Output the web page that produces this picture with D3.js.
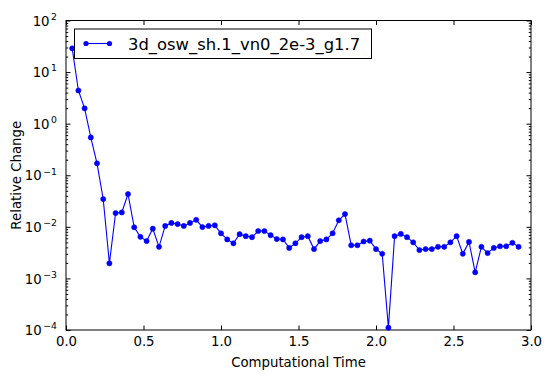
<!DOCTYPE html>
<html>
<head>
<meta charset="utf-8">
<script src="https://cdn.jsdelivr.net/npm/d3@7"></script>
<style>
  html, body { margin: 0; padding: 0; background: #fff; }
  svg { display: block; font-family: "DejaVu Sans", sans-serif; }
</style>
</head>
<body>
<svg id="chart" width="552" height="380"></svg>
<script>
// ---- data ----
const seriesName = "3d_osw_sh.1_vn0_2e-3_g1.7";
const times = [
  0.04,0.08,0.12,0.16,0.20,0.24,0.28,0.32,0.36,0.40,0.44,0.48,0.52,0.56,0.60,0.64,0.68,0.72,0.76,0.80,0.84,0.88,0.92,0.96,
  1.00,1.04,1.08,1.12,1.16,1.20,1.24,1.28,1.32,1.36,1.40,1.44,1.48,1.52,1.56,1.60,1.64,1.68,1.72,1.76,1.80,1.84,1.88,1.92,1.96,
  2.00,2.04,2.08,2.12,2.16,2.20,2.24,2.28,2.32,2.36,2.40,2.44,2.48,2.52,2.56,2.60,2.64,2.68,2.72,2.76,2.80,2.84,2.88,2.92
];
const relChange = [
  28.9,4.4,1.98,0.54,0.17,0.0346,0.00196,0.0185,0.019,0.0433,0.0098,0.0064,0.0053,0.0092,0.0041,0.0104,0.0119,0.0113,0.0104,0.0119,0.0137,0.0099,0.0104,0.0107,
  0.0075,0.0057,0.0048,0.0072,0.0066,0.0063,0.0083,0.0083,0.0069,0.0058,0.0057,0.0039,0.0048,0.0063,0.0066,0.0037,0.0053,0.0057,0.0075,0.0134,0.0177,0.0044,0.0044,0.0052,0.0054,
  0.0037,0.0030,0.000111,0.0066,0.0073,0.0063,0.0050,0.00355,0.0037,0.0037,0.0041,0.0041,0.0050,0.0066,0.0030,0.0051,0.00131,0.0041,0.0031,0.0039,0.0042,0.0042,0.0049,0.0041
];
const xTicks = [0.0, 0.5, 1.0, 1.5, 2.0, 2.5, 3.0];
const xTickLabels = ["0.0","0.5","1.0","1.5","2.0","2.5","3.0"];
const yExponents = [-4, -3, -2, -1, 0, 1, 2];
const xLabel = "Computational Time";
const yLabel = "Relative Change";

// ---- layout ----
const L = 66, R = 531, T = 20.5, B = 330;
const svg = d3.select("#chart");
const x = d3.scaleLinear().domain([0, 3]).range([L, R]);
const y = d3.scaleLog().domain([1e-4, 1e2]).range([B, T]);

const yMajor = yExponents.map(e => Math.pow(10, e));
const yMinor = [];
for (let e = -4; e < 2; e++) for (let k = 2; k <= 9; k++) yMinor.push(k * Math.pow(10, e));

const tickFont = 13.3;

// bottom axis
const gB = svg.append("g").attr("transform", `translate(0,${B})`)
  .call(d3.axisBottom(x).tickValues(xTicks).tickSize(-4.5).tickPadding(7)
    .tickFormat((d, i) => xTickLabels[i]));
// top axis
const gT = svg.append("g").attr("transform", `translate(0,${T})`)
  .call(d3.axisTop(x).tickValues(xTicks).tickSize(-4.5).tickFormat(""));
// left axis
const gL = svg.append("g").attr("transform", `translate(${L},0)`)
  .call(d3.axisLeft(y).tickValues(yMajor).tickSize(-4.5).tickFormat(""));
const gLm = svg.append("g").attr("transform", `translate(${L},0)`)
  .call(d3.axisLeft(y).tickValues(yMinor).tickSize(-2.2).tickFormat(""));
// right axis
const gR = svg.append("g").attr("transform", `translate(${R},0)`)
  .call(d3.axisRight(y).tickValues(yMajor).tickSize(-4.5).tickFormat(""));
const gRm = svg.append("g").attr("transform", `translate(${R},0)`)
  .call(d3.axisRight(y).tickValues(yMinor).tickSize(-2.2).tickFormat(""));

[gB, gT, gL, gLm, gR, gRm].forEach(g => {
  g.select(".domain").remove();
  g.selectAll(".tick line").attr("stroke", "#000").attr("stroke-width", 1);
});
gB.selectAll(".tick text").attr("font-size", tickFont).attr("fill", "#000")
  .attr("font-family", "DejaVu Sans");

// y tick labels with superscripts
gL.selectAll(".tick").each(function(d, i) {
  const e = Math.round(Math.log10(d));
  const t = d3.select(this).append("text")
    .attr("x", -9).attr("y", 4.7)
    .attr("text-anchor", "end")
    .attr("fill", "#000")
    .attr("font-family", "DejaVu Sans")
    .attr("font-size", tickFont);
  t.append("tspan").text("10");
  t.append("tspan").attr("dy", -5.8).attr("dx", 1.5).attr("font-size", 9.3)
    .text(e < 0 ? "\u2212" + Math.abs(e) : String(e));
});

// frame
svg.append("rect").attr("x", L).attr("y", T).attr("width", R - L).attr("height", B - T)
  .attr("fill", "none").attr("stroke", "#000").attr("stroke-width", 1);

// series
const pts = times.map((t, i) => [t, relChange[i]]);
const line = d3.line().x(d => x(d[0])).y(d => y(d[1]));
svg.append("path").datum(pts).attr("d", line)
  .attr("fill", "none").attr("stroke", "#0000ff").attr("stroke-width", 1.1);
svg.append("g").selectAll("circle").data(pts).join("circle")
  .attr("cx", d => x(d[0])).attr("cy", d => y(d[1])).attr("r", 2.6)
  .attr("fill", "#0000ff").attr("stroke", "#0000ff").attr("stroke-width", 0.5);

// axis labels
svg.append("text").attr("x", (L + R) / 2).attr("y", 367)
  .attr("text-anchor", "middle").attr("font-size", 13.3).attr("fill", "#000")
  .text(xLabel);
svg.append("text").attr("transform", `translate(21,${(T + B) / 2}) rotate(-90)`)
  .attr("text-anchor", "middle").attr("font-size", 13.3).attr("fill", "#000")
  .text(yLabel);

// legend
const lg = svg.append("g");
lg.append("rect").attr("x", 74.5).attr("y", 29).attr("width", 297).attr("height", 29.5)
  .attr("fill", "#fff").attr("stroke", "#000").attr("stroke-width", 1);
lg.append("line").attr("x1", 86).attr("x2", 109.5).attr("y1", 43.5).attr("y2", 43.5)
  .attr("stroke", "#0000ff").attr("stroke-width", 1.1);
[86, 109.5].forEach(cx => lg.append("circle").attr("cx", cx).attr("cy", 43.5).attr("r", 2.6)
  .attr("fill", "#0000ff"));
lg.append("text").attr("x", 128).attr("y", 49.5).attr("font-size", 16.4).attr("fill", "#000")
  .text(seriesName);
</script>
</body>
</html>
